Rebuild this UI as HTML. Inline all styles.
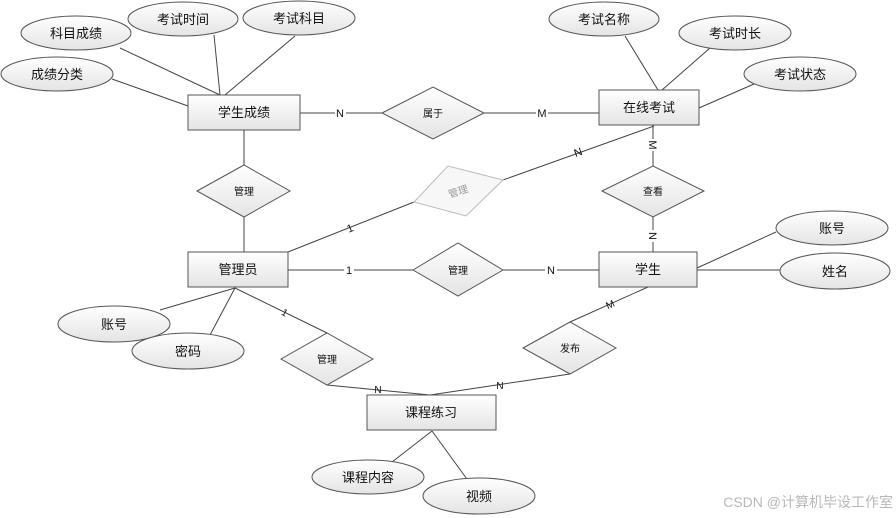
<!DOCTYPE html>
<html><head><meta charset="utf-8"><style>
html,body{margin:0;padding:0;background:#fff;}
svg{display:block;}
text{font-family:"Liberation Sans","Noto Sans CJK SC",sans-serif;fill:#111;}
</style></head><body>
<svg width="896" height="518" viewBox="0 0 896 518" xmlns="http://www.w3.org/2000/svg">
<defs>
<linearGradient id="g" x1="0" y1="0" x2="0" y2="1"><stop offset="0" stop-color="#ffffff"/><stop offset="1" stop-color="#e4e4e4"/></linearGradient>
</defs>
<g stroke="#444" stroke-width="1" fill="none">
<line x1="120" y1="48" x2="220" y2="95"/>
<line x1="214" y1="35" x2="220" y2="95"/>
<line x1="295" y1="36" x2="225" y2="95"/>
<line x1="112" y1="79" x2="188" y2="106"/>
<line x1="300" y1="113" x2="382" y2="113"/>
<line x1="484" y1="113" x2="599" y2="113"/>
<line x1="625" y1="36" x2="658" y2="90"/>
<line x1="710" y1="48" x2="662" y2="90"/>
<line x1="754" y1="84" x2="699" y2="108"/>
<line x1="654" y1="126" x2="503" y2="180"/>
<line x1="414" y1="202" x2="288" y2="252"/>
<line x1="653" y1="125" x2="653" y2="166"/>
<line x1="653" y1="217" x2="653" y2="252"/>
<line x1="244" y1="130" x2="244" y2="165"/>
<line x1="244" y1="217" x2="244" y2="252"/>
<line x1="288" y1="270" x2="413" y2="270"/>
<line x1="503" y1="270" x2="599" y2="270"/>
<line x1="776" y1="232" x2="697" y2="268"/>
<line x1="781" y1="270" x2="697" y2="270"/>
<line x1="160" y1="310" x2="235" y2="288"/>
<line x1="210" y1="335" x2="235" y2="288"/>
<line x1="235" y1="288" x2="327" y2="333"/>
<line x1="327" y1="385" x2="430" y2="395"/>
<line x1="570" y1="374" x2="430" y2="395"/>
<line x1="648" y1="287" x2="570" y2="322"/>
<line x1="432" y1="431" x2="392" y2="462"/>
<line x1="432" y1="431" x2="472" y2="486"/>
</g>
<!-- cardinality labels -->
<g font-size="11" text-anchor="middle">
<rect x="335" y="106" width="11" height="13" fill="#fff"/><text x="340" y="117">N</text>
<rect x="536" y="106" width="12" height="13" fill="#fff"/><text x="542" y="117">M</text>
<text x="578" y="156" transform="rotate(-20 578 152)">N</text>
<text x="350" y="232" transform="rotate(-22 350 228)">1</text>
<rect x="647" y="139" width="12" height="12" fill="#fff"/><text x="653" y="149" transform="rotate(90 653 145)">M</text>
<rect x="647" y="230" width="12" height="12" fill="#fff"/><text x="653" y="240" transform="rotate(90 653 236)">N</text>
<rect x="344" y="263" width="10" height="13" fill="#fff"/><text x="349" y="274">1</text>
<rect x="545" y="263" width="12" height="13" fill="#fff"/><text x="551" y="274">N</text>
<text x="285" y="316" font-size="10" transform="rotate(30 285 312)">1</text>
<text x="378" y="393" font-size="10">N</text>
<text x="500" y="389" font-size="10">N</text>
<text x="610" y="308" font-size="10" transform="rotate(-25 610 304)">M</text>
</g>
<!-- ellipses -->
<g fill="url(#g)" stroke="#555">
<ellipse cx="76" cy="33" rx="55" ry="17"/>
<ellipse cx="183" cy="19" rx="55" ry="17"/>
<ellipse cx="299" cy="18" rx="56" ry="17"/>
<ellipse cx="57" cy="74" rx="56" ry="17"/>
<ellipse cx="604" cy="19" rx="55" ry="17"/>
<ellipse cx="735" cy="33" rx="56" ry="17"/>
<ellipse cx="800" cy="74" rx="56" ry="17"/>
<ellipse cx="832" cy="228" rx="56" ry="17"/>
<ellipse cx="835" cy="271" rx="55" ry="18"/>
<ellipse cx="114" cy="324" rx="56" ry="18"/>
<ellipse cx="188" cy="351" rx="56" ry="18"/>
<ellipse cx="368" cy="477" rx="56" ry="17"/>
<ellipse cx="479" cy="496" rx="56" ry="18"/>
</g>
<!-- rects -->
<g fill="url(#g)" stroke="#555">
<rect x="188" y="95" width="112" height="35"/>
<rect x="599" y="90" width="100" height="35"/>
<rect x="188" y="252" width="100" height="35"/>
<rect x="599" y="252" width="98" height="35"/>
<rect x="367" y="395" width="129" height="35"/>
</g>
<!-- diamonds -->
<g fill="url(#g)" stroke="#555">
<polygon points="382,113 433,87 484,113 433,139"/>
<polygon points="197,191 244,165 290,191 244,217"/>
<polygon points="602,191 653,166 704,191 653,217"/>
<polygon points="413,270 458,243 503,270 458,296"/>
<polygon points="281,359 327,333 373,359 327,385"/>
<polygon points="523,348 570,322 616,348 570,374"/>
</g>
<polygon points="414,202 448,166 503,180 466,216" fill="#f7f7f7" stroke="#bbb"/>
<!-- texts -->
<g font-size="13" text-anchor="middle">
<text x="76" y="38">科目成绩</text>
<text x="183" y="24">考试时间</text>
<text x="299" y="23">考试科目</text>
<text x="57" y="79">成绩分类</text>
<text x="604" y="24">考试名称</text>
<text x="735" y="38">考试时长</text>
<text x="800" y="79">考试状态</text>
<text x="832" y="233">账号</text>
<text x="835" y="276">姓名</text>
<text x="114" y="329">账号</text>
<text x="188" y="356">密码</text>
<text x="368" y="482">课程内容</text>
<text x="479" y="501">视频</text>
<text x="244" y="117">学生成绩</text>
<text x="649" y="112">在线考试</text>
<text x="238" y="274">管理员</text>
<text x="648" y="274">学生</text>
<text x="431" y="417">课程练习</text>
</g>
<g font-size="10" text-anchor="middle">
<text x="433" y="117">属于</text>
<text x="244" y="195">管理</text>
<text x="653" y="195">查看</text>
<text x="458" y="274">管理</text>
<text x="327" y="363">管理</text>
<text x="570" y="352">发布</text>
<text x="458" y="195" fill="#999" style="fill:#999" transform="rotate(-18 458 191)">管理</text>
</g>
<text x="893" y="507" font-size="14" text-anchor="end" style="fill:#b8b8b8">CSDN @计算机毕设工作室</text>
</svg>
</body></html>
